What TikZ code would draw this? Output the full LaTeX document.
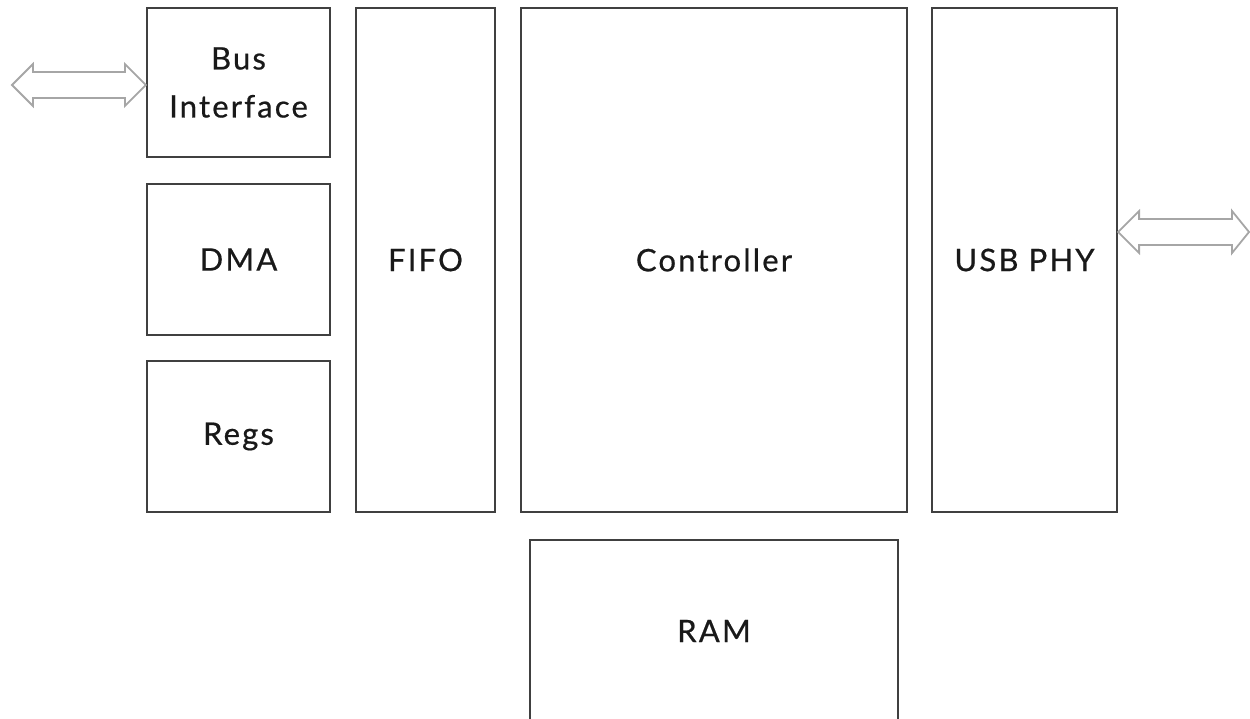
\documentclass[tikz,border=0pt]{standalone}
\usepackage{fontspec}
\setmainfont{Lato}[LetterSpace=7,FakeBold=0.6]
\usetikzlibrary{calc}
\begin{document}
\begin{tikzpicture}[x=1pt,y=-1pt,
  blk/.style={draw=black!75, line width=2.2pt, fill=white, text=black!90, font=\fontsize{31}{48}\selectfont, align=center, inner sep=0pt},
  dbl/.style={draw=black!35, line width=1.8pt, line join=miter, fill=white}]
\useasboundingbox (0,0) rectangle (1250,719);
\begin{scope}
\clip (0,0) rectangle (1250,719);
\node[blk, minimum width=183pt, minimum height=149pt] (bus) at (238.5,82.5) {Bus\\Interface};
\node[blk, minimum width=183pt, minimum height=151pt] (dma) at (238.5,259.5) {DMA};
\node[blk, minimum width=183pt, minimum height=151pt] (regs) at (238.5,436.5) {Regs};
\node[blk, minimum width=139pt, minimum height=504pt] (fifo) at (425.5,260) {FIFO};
\node[blk, minimum width=386pt, minimum height=504pt] (ctrl) at (714,260) {Controller};
\node[blk, minimum width=185pt, minimum height=504pt] (phy) at (1024.5,260) {USB PHY};
\node[blk, minimum width=368pt, minimum height=186pt] (ram) at (714,633) {};
\node[text=black!90, font=\fontsize{31}{48}\selectfont] (ramt) at (714,631) {RAM};
% left double arrow
\coordinate (la) at (12,85);
\draw[dbl] (la) -- ++(21,-21) -- ++(0,8) -- ($(bus.west|-la)+(-21,-13)$) -- ++(0,-8) -- (bus.west|-la) -- ++(-21,21) -- ++(0,-8) -- ($(la)+(21,13)$) -- ++(0,8) -- cycle;
% right double arrow
\coordinate (ra) at (1249,232);
\draw[dbl] (phy.east|-ra) -- ++(21,-21) -- ++(0,8) -- ($(ra)+(-17,-13)$) -- ++(0,-8) -- (ra) -- ++(-17,21) -- ++(0,-8) -- ($(phy.east|-ra)+(21,13)$) -- ++(0,8) -- cycle;
\end{scope}
\end{tikzpicture}
\end{document}
